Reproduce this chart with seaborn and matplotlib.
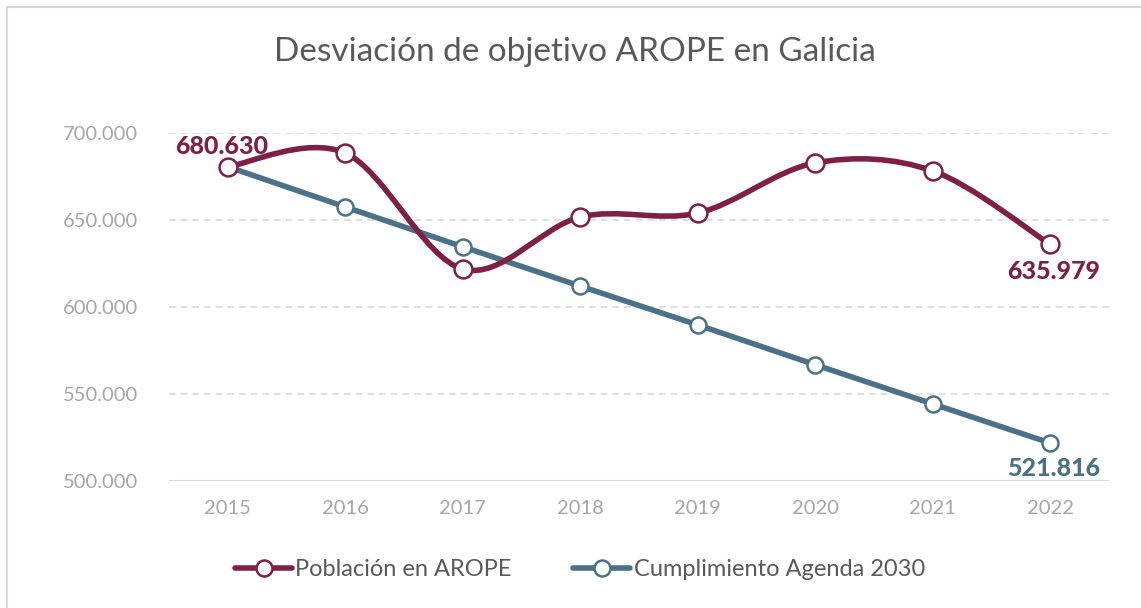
import matplotlib.pyplot as plt
import seaborn as sns
import pandas as pd
from matplotlib.path import Path
from matplotlib.patches import PathPatch, Rectangle
from matplotlib.lines import Line2D
from matplotlib.ticker import FuncFormatter

years = ["2015", "2016", "2017", "2018", "2019", "2020", "2021", "2022"]
arope = [680630, 688500, 621800, 651700, 654000, 682800, 678200, 635979]
agenda = [680630, 657500, 634600, 612000, 589700, 566800, 544300, 521816]

RED = "#7E1F45"
BLUE = "#4B7189"
GRID = "#D9D9D9"
TXT = "#A6A6A6"

sns.set_theme(style="white")
plt.rcParams["font.family"] = ["Lato", "DejaVu Sans"]

df = pd.DataFrame({"x": range(len(years)), "arope": arope, "agenda": agenda})

fig = plt.figure(figsize=(11.41, 6.08), dpi=100)
fig.patches.append(Rectangle((7 / 1141, -0.1), 1.2, 1 - 7 / 608 + 0.1,
                             transform=fig.transFigure, fill=False,
                             edgecolor=GRID, linewidth=1.5))
ax = fig.add_axes([169 / 1141, 1 - 481 / 608, 940 / 1141, 348 / 608])


def smooth_path(xs, ys):
    # Excel-style smoothed line through the points (cubic Bezier segments)
    pts = list(zip(xs, ys))
    verts = [pts[0]]
    codes = [Path.MOVETO]
    n = len(pts)
    for i in range(n - 1):
        p0 = pts[i - 1] if i > 0 else pts[i]
        p1, p2 = pts[i], pts[i + 1]
        p3 = pts[i + 2] if i + 2 < n else pts[i + 1]
        c1 = (p1[0] + (p2[0] - p0[0]) / 6, p1[1] + (p2[1] - p0[1]) / 6)
        c2 = (p2[0] - (p3[0] - p1[0]) / 6, p2[1] - (p3[1] - p1[1]) / 6)
        verts += [c1, c2, p2]
        codes += [Path.CURVE4] * 3
    return Path(verts, codes)


def fmt(v):
    return f"{int(v):,}".replace(",", ".")


for v in [550000, 600000, 650000, 700000]:
    ax.axhline(v, color=GRID, lw=1.2, ls=(0, (4, 3)), zorder=0)
ax.axhline(500000, color=GRID, lw=2.2, zorder=1)

sns.lineplot(data=df, x="x", y="agenda", ax=ax, color=BLUE, lw=4, zorder=2)
ax.plot(df["x"], df["agenda"], ls="none", marker="o", ms=11.5,
        mfc="white", mec=BLUE, mew=1.8, zorder=3)

ax.add_patch(PathPatch(smooth_path(df["x"], df["arope"]), fill=False,
                       edgecolor=RED, lw=4, zorder=4, capstyle="round"))
sns.scatterplot(data=df, x="x", y="arope", ax=ax, s=165, color="white",
                edgecolor=RED, linewidth=1.8, zorder=5)

lab = dict(fontsize=18, fontweight="black")
ax.text(df["x"][0] - 0.05, arope[0] + 5000, fmt(arope[0]),
        color=RED, ha="center", va="bottom", **lab)
ax.text(df["x"][7] + 0.03, arope[7] - 9000, fmt(arope[7]),
        color=RED, ha="center", va="top", **lab)
ax.text(df["x"][7] + 0.03, agenda[7] - 8000, fmt(agenda[7]),
        color=BLUE, ha="center", va="top", **lab)

ax.set_xlim(-0.5, len(years) - 0.5)
ax.set_ylim(500000, 700000)
ax.set_xticks(range(len(years)))
ax.set_xticklabels(years)
ax.set_yticks([500000, 550000, 600000, 650000, 700000])
ax.yaxis.set_major_formatter(FuncFormatter(lambda v, p: fmt(v)))
ax.tick_params(axis="both", colors=TXT, labelsize=14.5, length=0)
ax.tick_params(axis="x", pad=14)
ax.tick_params(axis="y", pad=22)
ax.set_xlabel("")
ax.set_ylabel("")
for s in ax.spines.values():
    s.set_visible(False)
ax.patch.set_alpha(0)

fig.text(575 / 1141, 1 - 52 / 608, "Desviación de objetivo AROPE en Galicia",
         ha="center", va="center", fontsize=24, color="#595959")

handles = [
    Line2D([], [], color=RED, lw=4, marker="o", ms=11.5, mfc="white", mec=RED, mew=1.8),
    Line2D([], [], color=BLUE, lw=4, marker="o", ms=11.5, mfc="white", mec=BLUE, mew=1.8),
]
fig.legend(handles, ["Población en AROPE", "Cumplimiento Agenda 2030"],
           loc="center", bbox_to_anchor=(580 / 1141, 1 - 570 / 608), ncol=2,
           frameon=False, fontsize=17, labelcolor="#595959", handlelength=2.4,
           handletextpad=0.15, columnspacing=2.6)

fig.savefig("out.png", dpi=100)
